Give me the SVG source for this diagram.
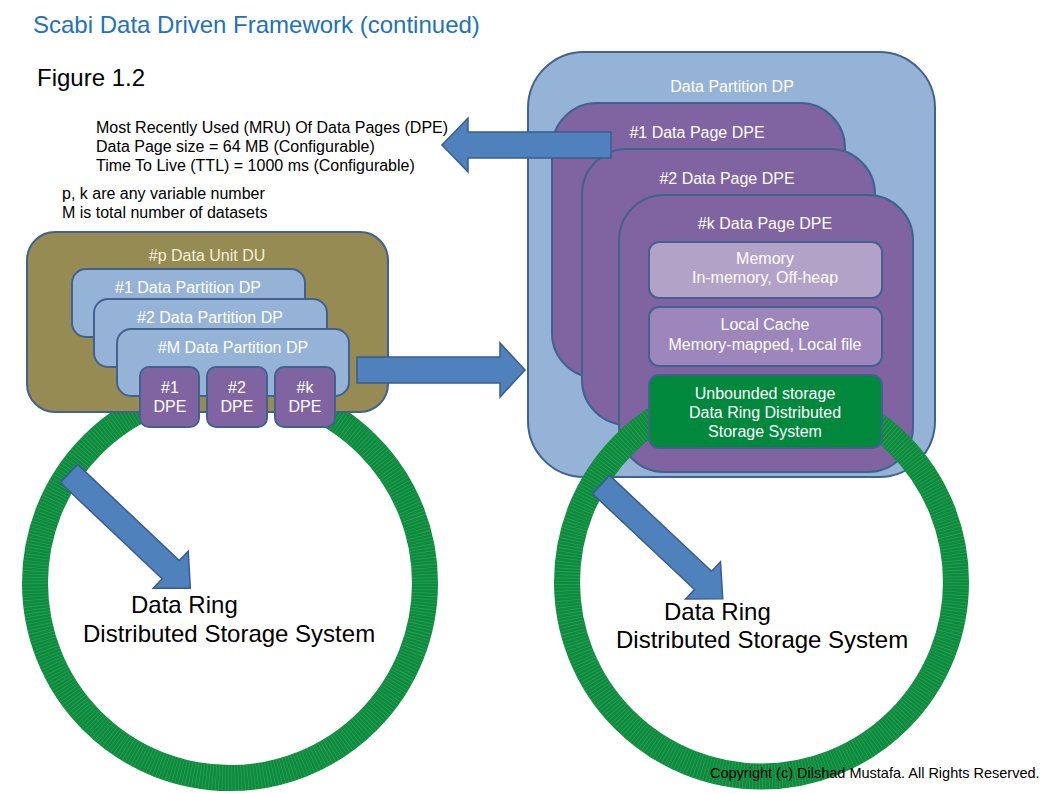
<svg xmlns="http://www.w3.org/2000/svg" width="1058" height="794" viewBox="0 0 1058 794">
<style>
text{font-family:"Liberation Sans",Arial,sans-serif}
.t{fill:#000;font-size:16px}
.big{fill:#000;font-size:24px}
.w{fill:#fff;font-size:16px;text-anchor:middle}
.box{stroke:#41628f;stroke-width:2}
.du{fill:#968b52}
.dp{fill:#95b3d7}
.pg{fill:#8064a2}
.mem{fill:#b3a2c7}
.lc{fill:#9c86bc}
.ub{fill:#00883d}
.ring{fill:none;stroke:#0e8c3e;stroke-width:26}
.tick{fill:none;stroke:#7ccf98;stroke-width:25;stroke-dasharray:0.6 2.6;opacity:0.35}
.arr{fill:#4f81bd;stroke:#385d8a;stroke-width:1.5}
</style>
<defs>
<path id="diag" d="M0,-12.5 L140,-12.5 L140,-25.5 L167,0 L140,25.5 L140,12.5 L0,12.5 Z"/>
</defs>
<rect width="1058" height="794" fill="#fff"/>

<text x="33" y="33" style="font-size:24px;fill:#2172b8">Scabi Data Driven Framework (continued)</text>
<text class="big" x="37" y="86">Figure 1.2</text>
<g id="notes">
<text class="t" x="96" y="133">Most Recently Used (MRU) Of Data Pages (DPE)</text>
<text class="t" x="96" y="152">Data Page size = 64 MB (Configurable)</text>
<text class="t" x="96" y="171">Time To Live (TTL) = 1000 ms (Configurable)</text>
<text class="t" x="62" y="199">p, k are any variable number</text>
<text class="t" x="62" y="218">M is total number of datasets</text>
</g>

<!-- Left data ring -->
<g id="ring-left">
<circle class="ring" cx="230" cy="583" r="195"/>
<circle class="tick" cx="230" cy="583" r="195"/>
<text class="big" x="131" y="613">Data Ring</text>
<text class="big" x="83" y="642">Distributed Storage System</text>
</g>

<!-- Left: Data Unit -->
<g id="du">
<rect class="box du" x="27" y="232" width="361" height="180" rx="28"/>
<text class="w" x="207" y="261" style="fill:#f4efd9">#p Data Unit DU</text>
</g>
<g id="dp1">
<rect class="box dp" x="72" y="269" width="233" height="68" rx="14"/>
<text class="w" x="188" y="293">#1 Data Partition DP</text>
</g>
<g id="dp2">
<rect class="box dp" x="94" y="299" width="233" height="68" rx="14"/>
<text class="w" x="210" y="323">#2 Data Partition DP</text>
</g>
<g id="dpM">
<rect class="box dp" x="117" y="329" width="232" height="67" rx="14"/>
<text class="w" x="233" y="353">#M Data Partition DP</text>
</g>
<g id="dpe1">
<rect class="box pg" x="140" y="367" width="59" height="60" rx="9"/>
<text class="w" x="170" y="393">#1</text>
<text class="w" x="170" y="412">DPE</text>
</g>
<g id="dpe2">
<rect class="box pg" x="207" y="367" width="60" height="60" rx="9"/>
<text class="w" x="237" y="393">#2</text>
<text class="w" x="237" y="412">DPE</text>
</g>
<g id="dpek">
<rect class="box pg" x="275" y="367" width="60" height="60" rx="9"/>
<text class="w" x="305" y="393">#k</text>
<text class="w" x="305" y="412">DPE</text>
</g>

<!-- Right: Data Partition -->
<g id="dp-right">
<rect class="box dp" x="528" y="52" width="407" height="425" rx="56"/>
<text class="w" x="732" y="92">Data Partition DP</text>
</g>
<g id="page1">
<rect class="box pg" x="552" y="103" width="293" height="275" rx="45"/>
<text class="w" x="697" y="138">#1 Data Page DPE</text>
</g>
<g id="page2">
<rect class="box pg" x="582" y="149" width="293" height="276" rx="45"/>
<text class="w" x="727" y="184">#2 Data Page DPE</text>
</g>
<g id="pagek">
<rect class="box pg" x="619" y="195" width="294" height="277" rx="45"/>
<text class="w" x="765" y="229">#k Data Page DPE</text>
</g>

<g id="ring-right">
<circle class="ring" cx="761.5" cy="582" r="194.5"/>
<circle class="tick" cx="761.5" cy="582" r="194.5"/>
<text class="big" x="664" y="620">Data Ring</text>
<text class="big" x="616" y="648">Distributed Storage System</text>
</g>

<g id="memory">
<rect class="box mem" x="649" y="242" width="233" height="56" rx="10"/>
<text class="w" x="765" y="264">Memory</text>
<text class="w" x="765" y="283">In-memory, Off-heap</text>
</g>
<g id="localcache">
<rect class="box lc" x="649" y="307" width="233" height="59" rx="10"/>
<text class="w" x="765" y="330">Local Cache</text>
<text class="w" x="765" y="350">Memory-mapped, Local file</text>
</g>
<g id="unbounded">
<rect class="box ub" x="649" y="375" width="233" height="73" rx="10"/>
<text class="w" x="765" y="399">Unbounded storage</text>
<text class="w" x="765" y="418">Data Ring Distributed</text>
<text class="w" x="765" y="437">Storage System</text>
</g>

<g id="connectors">
<polygon class="arr" points="611,132 468,132 468,118 442,145 468,172 468,158 611,158"/>
<polygon class="arr" points="357,357 500,357 500,343 525,370 500,397 500,383 357,383"/>
<use href="#diag" class="arr" transform="translate(69,473.5) rotate(43.4)"/>
<use href="#diag" class="arr" transform="translate(601,484.5) rotate(43.2)"/>
</g>

<text x="710" y="778" style="font-size:14.5px;fill:#000">Copyright (c) Dilshad Mustafa. All Rights Reserved.</text>
</svg>
